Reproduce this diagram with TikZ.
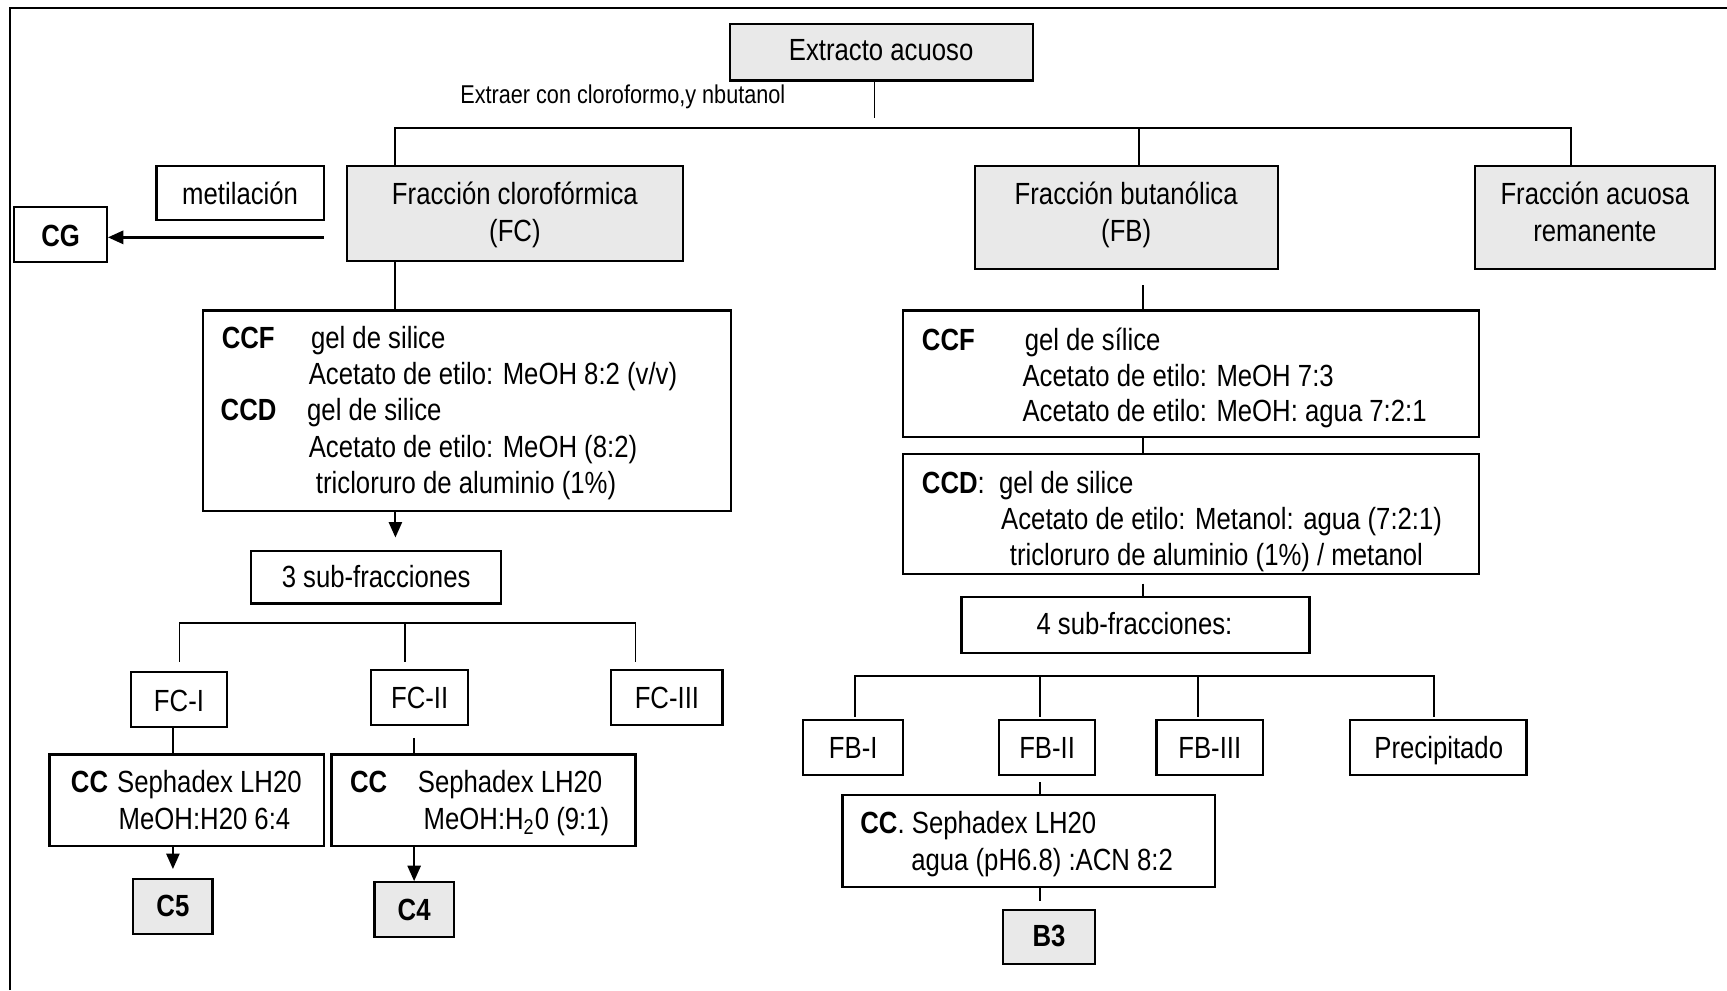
\documentclass[tikz,border=0pt]{standalone}
\usepackage{fontspec}
\setmainfont{Liberation Sans}[FakeStretch=0.84]
\usetikzlibrary{fit,arrows.meta}
\definecolor{boxgray}{RGB}{233,233,233}
\begin{document}
\begin{tikzpicture}[x=0.5pt,y=-0.5pt,
  box/.style={draw, line width=1pt, inner sep=0pt},
  gbox/.style={box, fill=boxgray},
  txt/.style={inner sep=0pt, font=\fontsize{13.9pt}{16.5pt}\selectfont},
  lt/.style={txt, anchor=base west},
  ct/.style={txt, anchor=base},
  conn/.style={line width=0.85pt},
  arr/.style={conn, -{Triangle[length=7pt,width=6pt]}}]
\useasboundingbox (0,0) rectangle (1568,899);
% frame
\draw[line width=1pt] (9,899) -- (9,7) -- (1568,7);
% boxes
\node[gbox, fit={(663,22) (938,73)}] (ext) {};
\node[box, fit={(142,151) (294,200)}] (met) {};
\node[box, fit={(13,188) (97,238)}] (cg) {};
\node[gbox, fit={(315,151) (620,237)}] (fc) {};
\node[gbox, fit={(885,151) (1160,244)}] (fb) {};
\node[gbox, fit={(1339,151) (1557,244)}] (fa) {};
\node[box, fit={(184,282) (664,464)}] (ccfL) {};
\node[box, fit={(228,500) (455,548)}] (sub3) {};
\node[box, fit={(119,610) (206,660)}] (fc1) {};
\node[box, fit={(337,608) (425,658)}] (fc2) {};
\node[box, fit={(555,608) (656,658)}] (fc3) {};
\node[box, fit={(45,685) (294,768)}] (cc1) {};
\node[box, fit={(301,685) (577,768)}] (cc2) {};
\node[gbox, fit={(121,798) (193,848)}] (c5) {};
\node[gbox, fit={(340,801) (412,851)}] (c4) {};
\node[box, fit={(820,282) (1343,397)}] (ccfR) {};
\node[box, fit={(820,412) (1343,521)}] (ccdR) {};
\node[box, fit={(873,542) (1189,593)}] (sub4) {};
\node[box, fit={(729,654) (820,704)}] (fb1) {};
\node[box, fit={(907,654) (994,704)}] (fb2) {};
\node[box, fit={(1050,654) (1147,704)}] (fb3) {};
\node[box, fit={(1226,654) (1386,704)}] (prec) {};
\node[box, fit={(765,722) (1103,805)}] (cc3) {};
\node[gbox, fit={(911,826) (994,875)}] (b3) {};
% connectors
\coordinate (j0) at (794,107);
\draw[conn] (ext.south -| j0) -- (j0);
\coordinate (hL) at (359,116);
\coordinate (hM) at (1034,116);
\coordinate (hR) at (1426,116);
\draw[conn] (fc.north -| hL) -- (hL) -- (hR) -- (fa.north -| hR);
\draw[conn] (hM) -- (fb.north -| hM);
\coordinate (a0) at (294,215.5);
\draw[arr, line width=1.1pt] (a0) -- (cg.east |- a0);
\draw[conn] (fc.south -| hL) -- (ccfL.north -| hL);
\coordinate (jb) at (1038,259);
\draw[conn] (jb) -- (ccfR.north -| jb);
\draw[conn] (ccfR.south -| jb) -- (ccdR.north -| jb);
\coordinate (jb2) at (1038,530);
\draw[conn] (jb2) -- (sub4.north -| jb2);
\coordinate (ta) at (359,488);
\draw[arr] (ccfL.south -| ta) -- (ta);
\coordinate (t1) at (163,566);
\coordinate (t2) at (368,566);
\coordinate (t3) at (577,566);
\coordinate (e1) at (163,601);
\coordinate (e2) at (368,601);
\coordinate (e3) at (577,601);
\draw[conn] (e1) -- (t1) -- (t3) -- (e3);
\draw[conn] (t2) -- (e2);
\coordinate (k1) at (157,660);
\draw[conn] (fc1.south -| k1) -- (cc1.north -| k1);
\coordinate (k2) at (376,670);
\draw[conn] (k2) -- (cc2.north -| k2);
\coordinate (ta5) at (157,789);
\draw[arr] (cc1.south -| ta5) -- (ta5);
\draw[arr] (cc2.south -| k2) -- (c4.north -| k2);
\coordinate (u1) at (776,614);
\coordinate (u2) at (944.5,614);
\coordinate (u3) at (1087.5,614);
\coordinate (u4) at (1302,614);
\coordinate (v1) at (776,651);
\coordinate (v2) at (944.5,651);
\coordinate (v3) at (1087.5,651);
\coordinate (v4) at (1302,651);
\draw[conn] (v1) -- (u1) -- (u4) -- (v4);
\draw[conn] (u2) -- (v2);
\draw[conn] (u3) -- (v3);
\coordinate (m1) at (944.5,710);
\draw[conn] (m1) -- (cc3.north -| m1);
\coordinate (m2) at (944.5,818);
\draw[conn] (cc3.south -| m2) -- (m2);
% texts
\node[ct] (t-ext) at (800,55) {Extracto acuoso};
\node[ct, font=\fontsize{11.7pt}{14pt}\selectfont] (t-extraer) at (565.5,94.4) {Extraer con cloroformo,y nbutanol};
\node[ct] (t-met) at (218,186) {metilación};
\node[ct] (t-cg) at (55,223.4) {\textbf{CG}};
\node[ct] (t-fc1) at (467.5,186) {Fracción clorofórmica};
\node[ct] (t-fc2) at (467.5,219) {(FC)};
\node[ct] (t-fb1) at (1022.5,186) {Fracción butanólica};
\node[ct] (t-fb2) at (1022.5,219) {(FB)};
\node[ct] (t-fa1) at (1448,186) {Fracción acuosa};
\node[ct] (t-fa2) at (1448,219) {remanente};
% left CCF/CCD
\node[lt] (l1a) at (201,316) {\textbf{CCF}};
\node[lt] (l1b) at (282,316) {gel de silice};
\node[lt] (l2) at (280,349) {Acetato de etilo: MeOH 8:2 (v/v)};
\node[lt] (l3a) at (200,382) {\textbf{CCD}};
\node[lt] (l3b) at (278.5,382) {gel de silice};
\node[lt] (l4) at (280,415) {Acetato de etilo: MeOH (8:2)};
\node[lt] (l5) at (286.5,448) {tricloruro de aluminio (1\%)};
\node[ct] (t-sub3) at (341.5,533.6) {3 sub-fracciones};
\node[ct] (t-fci) at (162.5,645.6) {FC-I};
\node[ct] (t-fcii) at (381,643.1) {FC-II};
\node[ct] (t-fciii) at (605.5,643.1) {FC-III};
\node[lt] (cc1a) at (64,719.7) {\textbf{CC}};
\node[lt] (cc1b) at (106,719.7) {Sephadex LH20};
\node[lt] (cc1c) at (107.4,753) {MeOH:H20 6:4};
\node[lt] (cc2a) at (317.4,719.7) {\textbf{CC}};
\node[lt] (cc2b) at (379,719.7) {Sephadex LH20};
\node[lt] (cc2c) at (384.3,753) {MeOH:H\textsubscript{2}0 (9:1)};
\node[ct] (t-c5) at (157,832.3) {\textbf{C5}};
\node[ct] (t-c4) at (376,836) {\textbf{C4}};
% right CCF/CCD
\node[lt] (r1a) at (836.7,317.8) {\textbf{CCF}};
\node[lt] (r1b) at (930,317.8) {gel de sílice};
\node[lt] (r2) at (928,350.5) {Acetato de etilo: MeOH 7:3};
\node[lt] (r3) at (928,382.8) {Acetato de etilo: MeOH: agua 7:2:1};
\node[lt] (r4a) at (836.7,448) {\textbf{CCD}:};
\node[lt] (r4b) at (906.7,448) {gel de silice};
\node[lt] (r5) at (908.6,481.2) {Acetato de etilo: Metanol: agua (7:2:1)};
\node[lt] (r6) at (916.5,513) {tricloruro de aluminio (1\%) / metanol};
\node[ct] (t-sub4) at (1030,576.5) {4 sub-fracciones:};
\node[ct] (t-fbi) at (774.7,688.5) {FB-I};
\node[ct] (t-fbii) at (950.7,688.5) {FB-II};
\node[ct] (t-fbiii) at (1098.4,688.5) {FB-III};
\node[ct] (t-prec) at (1306.3,688.5) {Precipitado};
\node[lt] (cc3a) at (780.8,756.6) {\textbf{CC}. Sephadex LH20};
\node[lt] (cc3b) at (827,790) {agua (pH6.8) :ACN 8:2};
\node[ct] (t-b3) at (952.5,859.5) {\textbf{B3}};
\end{tikzpicture}
\end{document}
